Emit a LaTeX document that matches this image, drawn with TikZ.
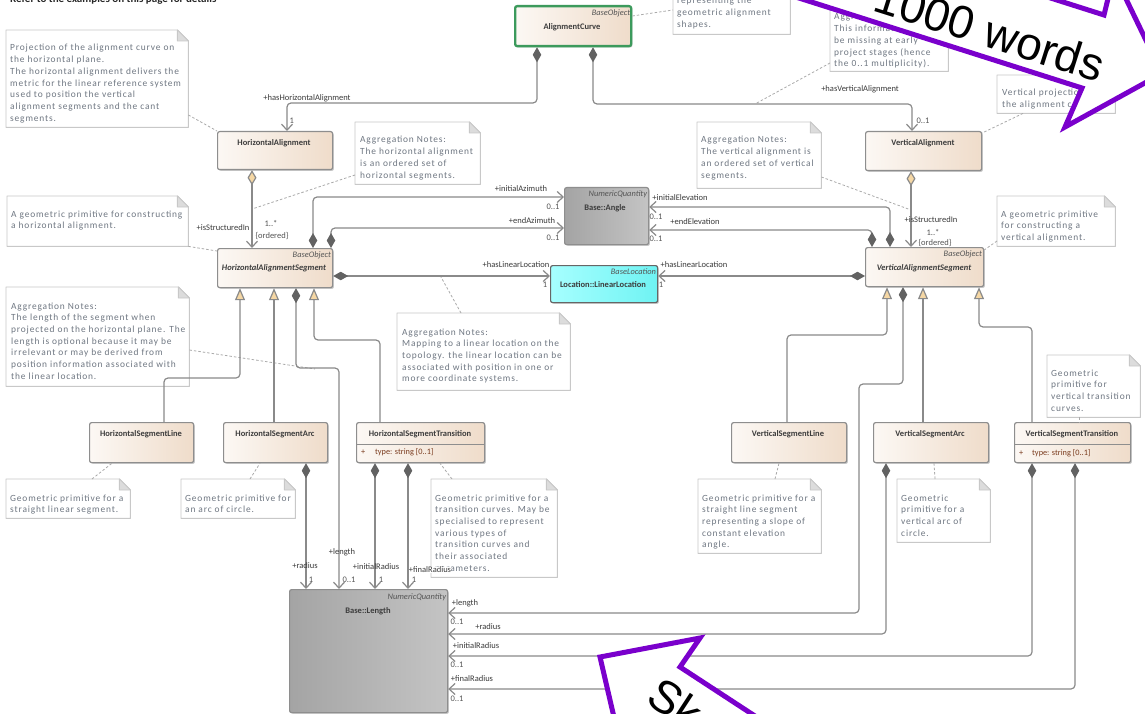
\documentclass[tikz,border=0pt]{standalone}
\usepackage{fontspec}
\setmainfont{Carlito}
\newfontfamily\notefont[LetterSpace=9]{Carlito}
\newfontfamily\bigfont{Liberation Sans}
\usetikzlibrary{arrows.meta,shadows}
\definecolor{clsL}{HTML}{FCF8F4}
\definecolor{clsR}{HTML}{EFDCCA}
\definecolor{clsbd}{HTML}{8E8E8E}
\definecolor{lineg}{HTML}{8A8A8A}
\definecolor{diamf}{HTML}{626262}
\definecolor{aggf}{HTML}{F5D7A4}
\definecolor{notebd}{HTML}{C8C8C8}
\definecolor{notetx}{HTML}{6F7782}
\definecolor{foldg}{HTML}{DCDCDC}
\definecolor{clstext}{HTML}{3C3C3C}
\definecolor{lbltx}{HTML}{3A3A3A}
\definecolor{multx}{HTML}{555555}
\definecolor{attrtx}{HTML}{7A3B1E}
\definecolor{greyL}{HTML}{A4A4A4}
\definecolor{greyR}{HTML}{C4C4C4}
\definecolor{cyanL}{HTML}{A6FFFF}
\definecolor{cyanR}{HTML}{6FF3F3}
\definecolor{acgreen}{HTML}{3C9A5C}
\definecolor{purp}{RGB}{122,0,204}
\newcommand\notefold[1]{%
  \draw[notebd,line width=0.9pt] (#1.north west) -- ([xshift=-11pt]#1.north east) -- ([yshift=-11pt]#1.north east) -- (#1.south east) -- (#1.south west) -- cycle;
  \filldraw[notebd,line width=0.9pt,fill=foldg] ([xshift=-11pt]#1.north east) -- ([xshift=-11pt,yshift=-11pt]#1.north east) -- ([yshift=-11pt]#1.north east) -- cycle;}
\begin{document}
\begin{tikzpicture}[x=1pt,y=-1pt,line join=round,
  cls/.style={draw=clsbd,line width=1.2pt,rounded corners=2pt,left color=clsL,right color=clsR,anchor=north west,inner sep=0pt,
    drop shadow={shadow xshift=1.3pt,shadow yshift=-1.3pt,opacity=.35,fill=black!60}},
  cname/.style={font=\fontsize{8.5}{10}\selectfont\bfseries,text=clstext,inner sep=0pt},
  stereo/.style={font=\fontsize{8.4}{10}\selectfont\itshape,text=multx,anchor=north east,inner sep=0pt},
  lbl/.style={font=\fontsize{8.5}{9}\selectfont,text=lbltx,inner sep=0.4pt},
  mult/.style={font=\fontsize{8.5}{9}\selectfont,text=multx,inner sep=0.4pt},
  attr/.style={font=\fontsize{8.3}{9}\selectfont,text=attrtx,inner sep=0pt,anchor=west},
  gl/.style={draw=lineg,line width=1.2pt,rounded corners=4pt},
  comp/.style={gl,{Diamond[length=15pt,width=8.5pt,fill=diamf,color=diamf]}-{Straight Barb[length=6pt,width=11pt]}},
  agg/.style={gl,{Diamond[length=15pt,width=9pt,fill=aggf]}-{Straight Barb[length=6pt,width=11pt]}},
  gen/.style={gl,-{Triangle[length=12pt,width=10pt,fill=aggf]}},
  nline/.style={draw=notebd!85!black,dash pattern=on 2.5pt off 2pt,line width=0.8pt},
  notebox/.style={fill=white,anchor=north west,inner sep=0pt},
  notetxt/.style={anchor=base west,inner sep=0pt,text=notetx,font=\notefont\fontsize{9.4}{11.7}\selectfont}
]
\useasboundingbox (0,0) rectangle (1145,714);
\fill[white] (0,0) rectangle (1145,714);

% header text (cut off)
\node[anchor=base west,inner sep=0pt,font=\fontsize{11}{12}\selectfont\bfseries,text=black!85] (hdr) at (10,2.3) {Refer to the examples on this page for details};

% ---------------- notes ----------------
\node[notebox,minimum width=182pt,minimum height=97pt] (n1) at (6,30) {};
\notefold{n1}
\node[notetxt] (n1t) at (10,51) {\parbox[t]{180pt}{\raggedright Projection of the alignment curve on\\the horizontal plane.\\The horizontal alignment delivers the\\metric for the linear reference system\\used to position the vertical\\alignment segments and the cant\\segments.}};

\node[notebox,minimum width=117pt,minimum height=74pt] (n2) at (673,-40) {};
\notefold{n2}
\node[notetxt] (n2t) at (677,4) {\parbox[t]{115pt}{\raggedright representing the\\geometric alignment\\shapes.}};

\node[notebox,minimum width=118pt,minimum height=72pt] (n3) at (830,-1) {};
\notefold{n3}
\node[notetxt] (n3t) at (834,20) {\parbox[t]{115pt}{\raggedright Aggregation Notes:\\This information may\\be missing at early\\project stages (hence\\the 0..1 multiplicity).}};

\node[notebox,minimum width=118pt,minimum height=38pt] (n4) at (997,75) {};
\notefold{n4}
\node[notetxt] (n4t) at (1002,96) {\parbox[t]{115pt}{\raggedright Vertical projection of\\the alignment curve.}};

\node[notebox,minimum width=125pt,minimum height=62pt] (n5) at (355,122) {};
\notefold{n5}
\node[notetxt] (n5t) at (360,143) {\parbox[t]{122pt}{\raggedright Aggregation Notes:\\The horizontal alignment\\is an ordered set of\\horizontal segments.}};

\node[notebox,minimum width=181pt,minimum height=50pt] (n6) at (7,196) {};
\notefold{n6}
\node[notetxt] (n6t) at (11,217) {\parbox[t]{178pt}{\raggedright A geometric primitive for constructing\\a horizontal alignment.}};

\node[notebox,minimum width=124pt,minimum height=66pt] (n7) at (697,122) {};
\notefold{n7}
\node[notetxt] (n7t) at (701,143) {\parbox[t]{122pt}{\raggedright Aggregation Notes:\\The vertical alignment is\\an ordered set of vertical\\segments.}};

\node[notebox,minimum width=118pt,minimum height=50pt] (n8) at (997,196) {};
\notefold{n8}
\node[notetxt] (n8t) at (1001,217) {\parbox[t]{115pt}{\raggedright A geometric primitive\\for constructing a\\vertical alignment.}};

\node[notebox,minimum width=183pt,minimum height=99pt] (n9) at (6,287) {};
\notefold{n9}
\node[notetxt] (n9t) at (11,309) {\parbox[t]{180pt}{\raggedright Aggregation Notes:\\The length of the segment when\\projected on the horizontal plane. The\\length is optional because it may be\\irrelevant or may be derived from\\position information associated with\\the linear location.}};

\node[notebox,minimum width=173pt,minimum height=77pt] (n10) at (397,313) {};
\notefold{n10}
\node[notetxt] (n10t) at (402,335) {\parbox[t]{170pt}{\raggedright Aggregation Notes:\\Mapping to a linear location on the\\topology. the linear location can be\\associated with position in one or\\more coordinate systems.}};

\node[notebox,minimum width=124pt,minimum height=39pt] (n11) at (6,479) {};
\notefold{n11}
\node[notetxt] (n11t) at (10,501) {\parbox[t]{122pt}{\raggedright Geometric primitive for a\\straight linear segment.}};

\node[notebox,minimum width=114pt,minimum height=39pt] (n12) at (181,479) {};
\notefold{n12}
\node[notetxt] (n12t) at (185,501) {\parbox[t]{112pt}{\raggedright Geometric primitive for\\an arc of circle.}};

\node[notebox,minimum width=126pt,minimum height=98pt] (n13) at (431,479) {};
\notefold{n13}
\node[notetxt] (n13t) at (435,501) {\parbox[t]{124pt}{\raggedright Geometric primitive for a\\transition curves. May be\\specialised to represent\\various types of\\transition curves and\\their associated\\parameters.}};

\node[notebox,minimum width=123pt,minimum height=74pt] (n14) at (698,479) {};
\notefold{n14}
\node[notetxt] (n14t) at (702,501) {\parbox[t]{120pt}{\raggedright Geometric primitive for a\\straight line segment\\representing a slope of\\constant elevation\\angle.}};

\node[notebox,minimum width=93pt,minimum height=63pt] (n15) at (897,479) {};
\notefold{n15}
\node[notetxt] (n15t) at (901,501) {\parbox[t]{90pt}{\raggedright Geometric\\primitive for a\\vertical arc of\\circle.}};

\node[notebox,minimum width=93pt,minimum height=62pt] (n16) at (1047,355) {};
\notefold{n16}
\node[notetxt] (n16t) at (1051,376) {\parbox[t]{90pt}{\raggedright Geometric\\primitive for\\vertical transition\\curves.}};

% ---------------- classes ----------------
\node[cls,minimum width=116pt,minimum height=40pt,draw=acgreen,line width=2.3pt] (AC) at (514,5) {};
\node[stereo] (ACs) at ([xshift=-2pt,yshift=-4pt]AC.north east) {BaseObject};
\node[cname] (ACn) at (572,27) {AlignmentCurve};

\node[cls,minimum width=115pt,minimum height=38pt] (HA) at (217,131) {};
\node[cname] (HAn) at (274,143) {HorizontalAlignment};

\node[cls,minimum width=116pt,minimum height=39pt] (VA) at (865,131) {};
\node[cname] (VAn) at (923,143) {VerticalAlignment};

\node[cls,minimum width=115pt,minimum height=39pt] (HAS) at (217,248) {};
\node[stereo] (HASs) at ([xshift=-2pt,yshift=-3pt]HAS.north east) {BaseObject};
\node[cname,font=\fontsize{8.5}{10}\selectfont\bfseries\itshape] (HASn) at (274,268) {HorizontalAlignmentSegment};

\node[cls,minimum width=118pt,minimum height=39pt] (VAS) at (865,247) {};
\node[stereo] (VASs) at ([xshift=-2pt,yshift=-3pt]VAS.north east) {BaseObject};
\node[cname,font=\fontsize{8.5}{10}\selectfont\bfseries\itshape] (VASn) at (924,268) {VerticalAlignmentSegment};

\node[cls,minimum width=84pt,minimum height=57pt,left color=greyL,right color=greyR] (Ang) at (564,187) {};
\node[stereo] (Angs) at ([xshift=-2pt,yshift=-3pt]Ang.north east) {NumericQuantity};
\node[cname] (Angn) at (605,208) {Base::Angle};

\node[cls,minimum width=107pt,minimum height=37pt,left color=cyanL,right color=cyanR,draw=black!60] (LL) at (550,265) {};
\node[stereo] (LLs) at ([xshift=-2pt,yshift=-3pt]LL.north east) {BaseLocation};
\node[cname] (LLn) at (603,285) {Location::LinearLocation};

\node[cls,minimum width=104pt,minimum height=40pt] (HSL) at (89,422) {};
\node[cname] (HSLn) at (141,434) {HorizontalSegmentLine};

\node[cls,minimum width=104pt,minimum height=40pt] (HSA) at (223,422) {};
\node[cname] (HSAn) at (275,434) {HorizontalSegmentArc};

\node[cls,minimum width=128pt,minimum height=40pt] (HST) at (356,422) {};
\node[cname] (HSTn) at (420,434) {HorizontalSegmentTransition};
\draw[clsbd,line width=1pt] (HST.west |- 0,444) -- (HST.east |- 0,444);
\node[attr] (HSTp) at (361,452) {+};
\node[attr] (HSTa) at (375,452) {type: string [0..1]};

\node[cls,minimum width=115pt,minimum height=40pt] (VSL) at (731,422) {};
\node[cname] (VSLn) at (788,434) {VerticalSegmentLine};

\node[cls,minimum width=115pt,minimum height=40pt] (VSA) at (873,422) {};
\node[cname] (VSAn) at (930,434) {VerticalSegmentArc};

\node[cls,minimum width=116pt,minimum height=40pt] (VST) at (1014,422) {};
\node[cname] (VSTn) at (1072,434) {VerticalSegmentTransition};
\draw[clsbd,line width=1pt] (VST.west |- 0,444) -- (VST.east |- 0,444);
\node[attr] (VSTp) at (1019,453) {+};
\node[attr] (VSTa) at (1032,453) {type: string [0..1]};

\node[cls,minimum width=158pt,minimum height=123pt,left color=greyL,right color=greyR] (BL) at (289,589) {};
\node[stereo] (BLs) at ([xshift=-2pt,yshift=-4pt]BL.north east) {NumericQuantity};
\node[cname] (BLn) at (368,611) {Base::Length};

% ---------------- note links ----------------
\draw[nline] (AC.east |- 0,16) -- (n2.west |- 0,10);
\draw[nline] (n1.south east |- 0,115) -- (HA.north west);
\coordinate (hvaMid) at (755,104);
\draw[nline] (n3.west |- 0,63) -- (hvaMid);
\draw[nline] (n4.south west -| 1023,0) -- (VA.east |- 0,133);
\coordinate (haagg) at (252,209);
\draw[nline] (n5.west |- 0,175) -- (haagg);
\draw[nline] (n6.south east) -- (HAS.west |- 0,251);
\coordinate (vaagg) at (911,210);
\draw[nline] (n7.east |- 0,177) -- (vaagg);
\draw[nline] (n8.west |- 0,241) -- (VAS.east |- 0,250);
\coordinate (lenbend) at (315,369);
\draw[nline] (n9.east |- 0,350) -- (lenbend);
\coordinate (hllmid) at (441,277);
\draw[nline] (n10.north -| 461,0) -- (hllmid);
\draw[nline] (n11.north -| 92,0) -- (HSL.south -| 112,0);
\draw[nline] (n12.north -| 250,0) -- (HSA.south -| 260,0);
\draw[nline] (n13.north -| 452,0) -- (HST.south -| 440,0);
\draw[nline] (n14.north -| 775,0) -- (VSL.south -| 779,0);
\draw[nline] (n15.north -| 935,0) -- (VSA.south -| 934,0);
\draw[nline] (n16.south -| 1079,0) -- (VST.north -| 1079,0);

% ---------------- connectors ----------------
\draw[comp] (AC.south -| 537,0) -- (537,103) -- (287,103) -- (HA.north -| 287,0);
\node[lbl] (l1) at (307,98) {+hasHorizontalAlignment};
\node[mult,anchor=west] (m1) at (289,121) {1};

\draw[comp] (AC.south -| 593,0) -- (593,104) -- (912,104) -- (VA.north -| 912,0);
\node[lbl] (l2) at (860,89) {+hasVerticalAlignment};
\node[mult,anchor=west] (m2) at (916,121) {0..1};

\draw[agg] (HA.south -| 252,0) -- (HAS.north -| 252,0);
\node[lbl,anchor=east] (l3) at (250,228) {+isStructuredIn};
\node[mult] (m3a) at (271,224) {1..*};
\node[mult] (m3b) at (272,236) {\{ordered\}};

\draw[agg] (VA.south -| 911,0) -- (VAS.north -| 911,0);
\node[lbl] (l4) at (931,220) {+isStructuredIn};
\node[mult] (m4a) at (933,233) {1..*};
\node[mult] (m4b) at (935,243) {\{ordered\}};

\draw[comp] (HAS.north -| 313,0) |- (Ang.west |- 0,197);
\node[lbl] (l5) at (521,189) {+initialAzimuth};
\node[mult] (m5) at (553,207) {0..1};

\draw[comp] (HAS.north -| 331,0) |- (Ang.west |- 0,228);
\node[lbl] (l6) at (532,221) {+endAzimuth};
\node[mult] (m6) at (553,238) {0..1};

\draw[comp] (VAS.north -| 890,0) |- (Ang.east |- 0,207);
\node[lbl] (l7) at (680,198) {+initialElevation};
\node[mult] (m7) at (656,217) {0..1};

\draw[comp] (VAS.north -| 872,0) |- (Ang.east |- 0,230);
\node[lbl] (l8) at (695,222) {+endElevation};
\node[mult] (m8) at (656,239) {0..1};

\draw[comp] (HAS.east |- 0,276) -- (LL.west |- 0,276);
\node[lbl] (l9) at (516,265) {+hasLinearLocation};
\node[mult] (m9) at (545,285) {1};

\draw[comp] (VAS.west |- 0,276) -- (LL.east |- 0,276);
\node[lbl] (l10) at (694,265) {+hasLinearLocation};
\node[mult] (m10) at (661,285) {1};

% generalizations
\draw[gen] (HSL.north -| 164,0) -- (164,378) -- (240,378) -- (HAS.south -| 240,0);
\draw[gen] (HSA.north -| 274,0) -- (HAS.south -| 274,0);
\draw[gen] (HST.north -| 380,0) -- (380,340) -- (314,340) -- (HAS.south -| 314,0);
\draw[gen] (VSL.north -| 787,0) -- (787,335) -- (887,335) -- (VAS.south -| 887,0);
\draw[gen] (VSA.north -| 923,0) -- (VAS.south -| 923,0);
\draw[gen] (VST.north -| 1032,0) -- (1032,327) -- (979,327) -- (VAS.south -| 979,0);

% lengths / radii
\draw[comp] (HAS.south -| 296,0) -- (296,368) -- (339,368) -- (BL.north -| 339,0);
\node[lbl] (l11) at (342,552) {+length};
\node[mult] (m11) at (349,580) {0..1};
\draw[comp] (HSA.south -| 306,0) -- (BL.north -| 306,0);
\node[lbl] (l12) at (305,566) {+radius};
\node[mult] (m12) at (311,580) {1};
\draw[comp] (HST.south -| 375,0) -- (BL.north -| 375,0);
\node[lbl] (l13) at (376,567) {+initialRadius};
\node[mult] (m13) at (381,580) {1};
\draw[comp] (HST.south -| 408,0) -- (BL.north -| 408,0);
\node[lbl,fill=white] (l14) at (430,570) {+finalRadius};
\node[mult] (m14) at (414,580) {1};

\draw[comp] (VAS.south -| 903,0) -- (903,384) -- (859,384) -- (859,613) -- (BL.east |- 0,613);
\node[lbl] (l15) at (465,603) {+length};
\node[mult] (m15) at (457,622) {0..1};
\draw[comp] (VSA.south -| 886,0) -- (886,634) -- (BL.east |- 0,634);
\node[lbl] (l16) at (488,627) {+radius};
\draw[comp] (VST.south -| 1032,0) -- (1032,656) -- (BL.east |- 0,656);
\node[lbl] (l17) at (476,646) {+initialRadius};
\node[mult] (m17) at (457,665) {0..1};
\draw[comp] (VST.south -| 1075,0) -- (1075,689) -- (BL.east |- 0,689);
\node[lbl] (l18) at (472,679) {+finalRadius};
\node[mult] (m18) at (457,699) {0..1};

% ---------------- purple overlay arrows ----------------
\filldraw[draw=purp,fill=white,line width=5pt,line join=miter]
  (415,-124) -- (1082,88) -- (1065,127) -- (1162,73.5) -- (1114,-26) -- (1104,15) -- (437,-197) -- cycle;
\node[rotate=-17.6,inner sep=0pt,font=\bigfont\fontsize{46}{46}\selectfont] (w1000) at (990,31) {1000 words};

\filldraw[draw=purp,fill=white,line width=5pt,line join=miter]
  (600,657) -- (700,638) -- (680,667) -- (1015,886) -- (976,945) -- (641,726) -- (623,756) -- cycle;
\node[rotate=-33.2,inner sep=0pt,font=\bigfont\fontsize{46}{46}\selectfont] (wbot) at (712,727) {Sketch};
\end{tikzpicture}
\end{document}
